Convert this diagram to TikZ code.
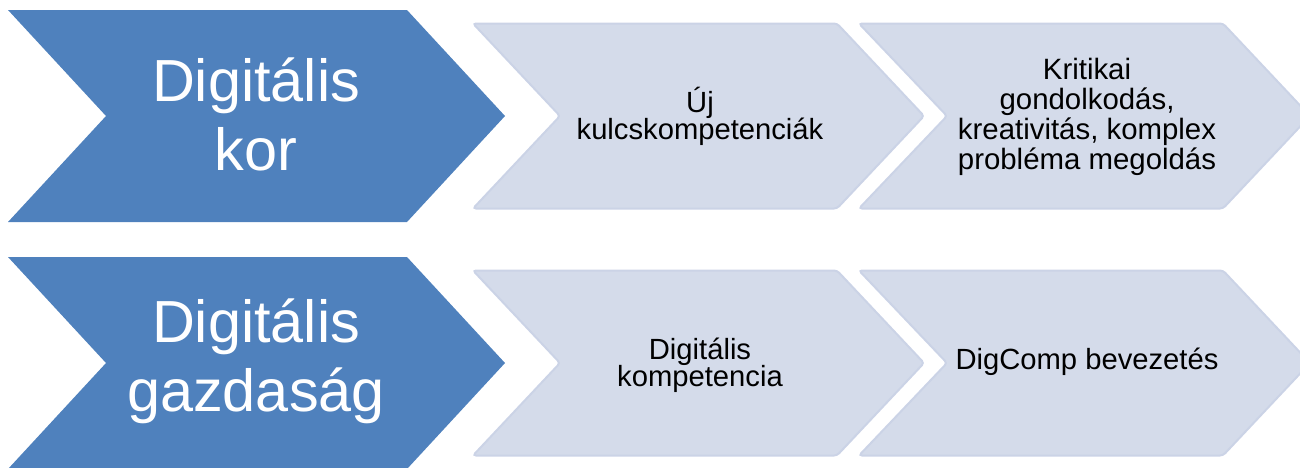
\documentclass[tikz,border=0pt]{standalone}
\usepackage{fontspec}
\setmainfont{Liberation Sans}
\usepackage{tikz}
\definecolor{kekes}{RGB}{79,129,189}
\definecolor{halvany}{RGB}{212,219,234}
\definecolor{halvanyszel}{RGB}{203,211,230}
\tikzset{
  fo/.style={fill=kekes},
  lepes/.style={fill=halvany,draw=halvanyszel,line width=1pt,rounded corners=1.5pt},
  focim/.style={text=white,align=center,font={\fontsize{29.7}{34.5}\selectfont}},
  szoveg/.style={text=black,align=center,font={\fontsize{14.6}{13.5}\selectfont\lineskiplimit=-20pt}},
  szovegsok/.style={text=black,align=center,font={\fontsize{14.7}{15}\selectfont\lineskiplimit=-20pt}}
}
\begin{document}
\begin{tikzpicture}[x=0.5pt,y=-0.5pt]
\useasboundingbox (0,0) rectangle (1300,467);
% sorok
\foreach \y in {116,363} {
  \path[fo] (8,\y-106) -- (407,\y-106) -- (505,\y) -- (407,\y+106) -- (8,\y+106) -- (106,\y) -- cycle;
  \path[lepes] (473,\y-92.5) -- (837,\y-92.5) -- (924,\y) -- (837,\y+92.5) -- (473,\y+92.5) -- (560,\y) -- cycle;
  \path[lepes] (859,\y-92.5) -- (1223,\y-92.5) -- (1310,\y) -- (1223,\y+92.5) -- (859,\y+92.5) -- (947,\y) -- cycle;
}
% elso sor
\node[focim] (kor) at (256,114) {Digitális\\kor};
\node[szoveg] (kulcs) at (700,116) {Új\\kulcskompetenciák};
\node[szovegsok] (kritikai) at (1087,117) {Kritikai\\gondolkodás,\\kreativitás, komplex\\probléma megoldás};
% masodik sor
\node[focim] (gazdasag) at (256,361) {Digitális\\gazdaság};
\node[szoveg] (kompetencia) at (700,365) {Digitális\\kompetencia};
\node[szoveg] (digcomp) at (1087,362) {DigComp bevezetés};
\end{tikzpicture}
\end{document}
